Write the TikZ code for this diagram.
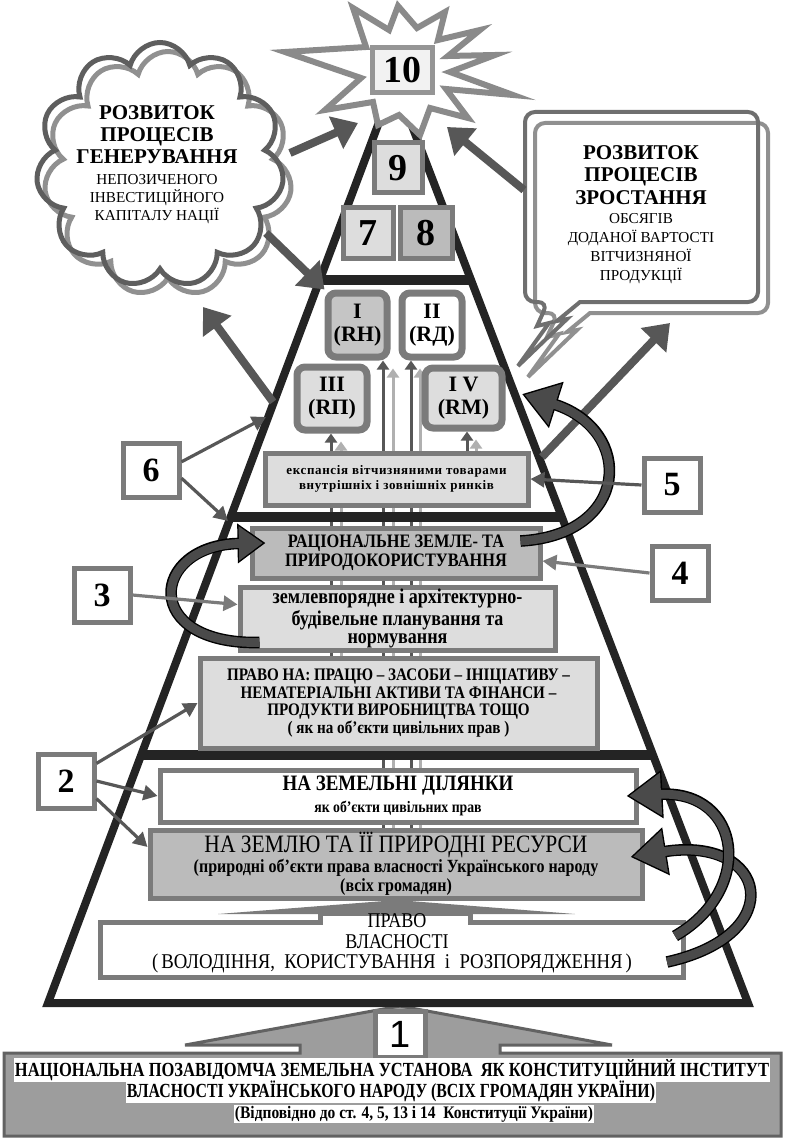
\documentclass[tikz,border=0pt]{standalone}
\usepackage{graphicx}
\usepackage{fontspec}
\setmainfont{Liberation Serif}
\setsansfont{Liberation Sans}
\newfontfamily\spacedfont[LetterSpace=5]{Liberation Serif}
\usetikzlibrary{arrows.meta,shapes.symbols,positioning,backgrounds}

\newcommand\nrw[1]{\scalebox{0.86}[1]{#1}}
\newcommand\fitw[2]{\resizebox{#1}{\height}{#2}}

\definecolor{pyrblack}{HTML}{242424}
\definecolor{arrowgray}{HTML}{575757}
\definecolor{framegray}{HTML}{7B7B7B}
\definecolor{lightfill}{HTML}{DDDDDD}
\definecolor{midfill}{HTML}{BBBBBB}
\definecolor{platefill}{HTML}{9D9D9D}
\definecolor{linelight}{HTML}{B0B0B0}
\definecolor{clouddark}{HTML}{5E5E5E}
\definecolor{cloudlight}{HTML}{909090}
\definecolor{stargray}{HTML}{8A8A8A}
\definecolor{ribbongray}{HTML}{4A4A4A}

\begin{document}
\begin{tikzpicture}[x=0.5pt,y=-0.5pt,
  boxsize/.style 2 args={minimum width=#1*0.5pt,minimum height=#2*0.5pt},
  tierbox/.style={draw=framegray,line width=2.5pt,fill=lightfill,align=center,inner sep=1pt},
  romanbox/.style={draw=framegray,line width=3.5pt,rounded corners=4pt,fill=lightfill,align=center,inner sep=0pt,font=\bfseries\fontsize{11}{11.5}\selectfont},
  digitbox/.style={draw=framegray,line width=2.5pt,fill=lightfill,inner sep=0pt,font=\bfseries\fontsize{19}{19}\selectfont},
  numbox/.style={draw=framegray,line width=2.5pt,fill=white,inner sep=0pt,boxsize={56}{54},font=\bfseries\fontsize{17}{17}\selectfont},
  platetext/.style={fill=white,inner sep=0.6pt,font=\bfseries\fontsize{10}{10}\selectfont},
  bigarrow/.style={draw=arrowgray,line width=4pt,-{Triangle[length=12pt,width=17pt]}},
  thinarrow/.style={draw=arrowgray,line width=1.6pt,-{Triangle[length=7pt,width=7.5pt]}},
  darkup/.style={draw=arrowgray,line width=1.5pt,-{Triangle[length=4.5pt,width=6pt]}},
  lightup/.style={draw=linelight,line width=1.5pt,-{Triangle[length=4.5pt,width=6pt]},shorten >=4pt},
  ribbon/.style={draw=ribbongray,line width=4.4pt,-{Triangle[length=12pt,width=16.4pt]},shorten >=1.3pt,
    preaction={draw=black,line width=5.8pt,-{Triangle[length=14pt,width=19pt]},shorten >=0pt}},
  ribbon big/.style={draw=ribbongray,line width=4.4pt,-{Triangle[length=16pt,width=20.4pt]},shorten >=1.3pt,
    preaction={draw=black,line width=5.8pt,-{Triangle[length=18pt,width=23pt]},shorten >=0pt}}]
\useasboundingbox (0,0) rectangle (784,1139);

% base plate
\draw[draw=framegray!80!black,line width=1.5pt,fill=platefill] (4,1053) -- (300,1053) -- (300,1045) -- (185,1045) -- (400,1006) -- (612,1045) -- (500,1045) -- (500,1053) -- (781,1053) -- (781,1136) -- (4,1136) -- cycle;
\node[numbox,boxsize={50}{46},font=\sffamily\fontsize{19}{19}\selectfont] (n1) at (400,1034) {1};
\node[platetext] (inst1) at (392,1070) {\fitw{377pt}{НАЦІОНАЛЬНА ПОЗАВІДОМЧА ЗЕМЕЛЬНА УСТАНОВА\ \ ЯК КОНСТИТУЦІЙНИЙ ІНСТИТУТ}};
\node[platetext] (inst2) at (391,1091) {\fitw{264pt}{ВЛАСНОСТІ УКРАЇНСЬКОГО НАРОДУ (ВСІХ ГРОМАДЯН УКРАЇНИ)}};
\node[platetext,font=\bfseries\fontsize{8.8}{9}\selectfont] (inst3) at (414,1114) {\fitw{179pt}{(Відповідно до ст. 4, 5, 13 і 14\ \ Конституції України)}};

% pyramid
\draw[pyrblack,line width=4pt] (48,1003) -- (385.5,105) -- (404,105) -- (748,1003) -- cycle;
\draw[pyrblack,line width=5pt] (320,280) -- (471,280);
\draw[pyrblack,line width=5pt] (231,517) -- (562,517);
\draw[pyrblack,line width=5pt] (141,755) -- (653,755);

% property base
\draw[draw=framegray,line width=2.5pt,fill=white] (100,977) -- (100,922) -- (320,922) -- (320,913) -- (470,913) -- (470,922) -- (683,922) -- (683,977) -- cycle;
\fill[framegray] (218,914) -- (397,900) -- (575,914) -- cycle;
\node[inner sep=0pt,font=\fontsize{10.5}{10.5}\selectfont] (pravoA) at (397,921) {\nrw{ПРАВО}};
\node[inner sep=0pt,font=\fontsize{10.5}{10.5}\selectfont] (pravoB) at (397,942) {\nrw{ВЛАСНОСТІ}};
\node[inner sep=0pt,font=\fontsize{10.5}{10.5}\selectfont] (pravoC) at (392,963) {\fitw{240pt}{(\,ВОЛОДІННЯ,\ \ КОРИСТУВАННЯ\ \ і\ \ РОЗПОРЯДЖЕННЯ\,)}};

% tiers
\node[tierbox,fill=midfill,boxsize={492}{68},font=\bfseries\fontsize{9.3}{9.6}\selectfont] (zemlia) at (396,864) {\nrw{\mdseries\fontsize{12.5}{12.5}\selectfont НА ЗЕМЛЮ ТА ЇЇ ПРИРОДНІ РЕСУРСИ}\\\nrw{(природні об’єкти права власності Українського народу}\\\nrw{(всіх громадян)}};
\node[tierbox,fill=white,boxsize={476}{52},font=\bfseries\fontsize{11}{11}\selectfont] (zemdil) at (398,796) {\nrw{НА ЗЕМЕЛЬНІ ДІЛЯНКИ}\\\nrw{\fontsize{8}{8}\selectfont як об’єкти цивільних прав}};
\node[tierbox,boxsize={397}{90},font=\bfseries\fontsize{8.8}{8.8}\selectfont] (pravona) at (398.5,703) {\nrw{ПРАВО НА: ПРАЦЮ – ЗАСОБИ – ІНІЦІАТИВУ –}\\\nrw{НЕМАТЕРІАЛЬНІ АКТИВИ ТА ФІНАНСИ –}\\\nrw{ПРОДУКТИ ВИРОБНИЦТВА ТОЩО}\\\nrw{( як на об’єкти цивільних прав )}};
\node[tierbox,boxsize={315}{63},font=\bfseries\fontsize{10.5}{9}\selectfont] (zemv) at (397.5,618.5) {\nrw{землевпорядне і архітектурно-}\\\nrw{будівельне планування та}\\\nrw{нормування}};
\node[tierbox,fill=midfill,boxsize={288}{50},font=\bfseries\fontsize{9.5}{9.5}\selectfont] (ratio) at (396,553) {\nrw{РАЦІОНАЛЬНЕ ЗЕМЛЕ- ТА}\\\nrw{ПРИРОДОКОРИСТУВАННЯ}};
\node[tierbox,boxsize={263}{52},font=\spacedfont\bfseries\fontsize{6.5}{7.5}\selectfont] (expan) at (396.5,479) {експансія вітчизняними товарами\\внутрішніх і зовнішніх ринків};

\node[romanbox,fill=midfill!70!lightfill,boxsize={59}{64}] (rI) at (357.5,325) {I\\(RH)};
\node[romanbox,fill=white,boxsize={60}{64}] (rII) at (432,325) {II\\(RД)};
\node[romanbox,boxsize={70}{63}] (rIII) at (332,398.5) {III\\(RП)};
\node[romanbox,boxsize={77}{60}] (rIV) at (463.5,398) {I V\\(RM)};

\begin{scope}[on background layer]
\coordinate (vIIIa) at (331,700);
\coordinate (vIIIb) at (341,700);
\coordinate (vIa) at (383,850);
\coordinate (vIb) at (393,850);
\coordinate (vIIa) at (411,850);
\coordinate (vIIb) at (420,850);
\coordinate (vIVa) at (467,475);
\coordinate (vIVb) at (476,475);
\draw[lightup] (vIIIb) -- (vIIIb |- rIII.south);
\draw[darkup] (vIIIa) -- (vIIIa |- rIII.south);
\draw[lightup] (vIb) -- (vIb |- rI.south);
\draw[darkup] (vIa) -- (vIa |- rI.south);
\draw[lightup] (vIIb) -- (vIIb |- rII.south);
\draw[darkup] (vIIa) -- (vIIa |- rII.south);
\draw[lightup] (vIVb) -- (vIVb |- rIV.south);
\draw[darkup] (vIVa) -- (vIVa |- rIV.south);
\end{scope}

\node[digitbox,boxsize={48}{50}] (d9) at (398,168) {9};
\node[digitbox,boxsize={50}{51}] (d7) at (368,233) {7};
\node[digitbox,fill=midfill,boxsize={52}{51}] (d8) at (426,233) {8};

% burst
\draw[draw=stargray,line width=3pt,fill=white] (398,6) -- (389,30) -- (353,8) -- (366,47) -- (285,52) -- (361,78) -- (325,110) -- (373,102) -- (378,125) -- (399,115) -- (420,135) -- (430,108) -- (468,118) -- (446,89) -- (513,95) -- (450,72) -- (495,55) -- (448,56) -- (480,30) -- (438,40) -- (445,12) -- (417,28) -- cycle;
\node[digitbox,fill=black!5,draw=framegray!80,boxsize={60}{45}] (d10) at (402,70) {10};

% cloud
\node[cloud,cloud puffs=11,cloud ignores aspect,draw=cloudlight,line width=2.5pt,boxsize={248}{245}] (cloudb) at (168,174) {};
\node[cloud,cloud puffs=11,cloud ignores aspect,draw=clouddark,line width=2.5pt,boxsize={248}{245}] (cloud) at (160,165) {};
\node[font=\bfseries\fontsize{10.5}{11}\selectfont,align=center] (cloudhead) at (157,135) {РОЗВИТОК\\ПРОЦЕСІВ\\ГЕНЕРУВАННЯ};
\node[font=\fontsize{7.6}{9.2}\selectfont,align=center] (cloudsub) at (157,199) {НЕПОЗИЧЕНОГО\\ІНВЕСТИЦІЙНОГО\\КАПІТАЛУ НАЦІЇ};

% callout
\draw[draw=cloudlight,line width=2pt,rounded corners=5pt,shift={(10,11)}] (580,302) -- (758,302) -- (758,112) -- (525,112) -- (525,302) -- (548,302) [sharp corners] -- (537,326) -- (549,323) -- (518,366) -- (567,319) -- (557,321) -- cycle;
\draw[draw=framegray!90!black,line width=2pt,rounded corners=5pt] (580,302) -- (758,302) -- (758,112) -- (525,112) -- (525,302) -- (548,302) [sharp corners] -- (537,326) -- (549,323) -- (518,366) -- (567,319) -- (557,321) -- cycle;
\node[font=\bfseries\fontsize{10.5}{11.3}\selectfont,align=center] (bubhead) at (641,175) {РОЗВИТОК\\ПРОЦЕСІВ\\ЗРОСТАННЯ};
\node[font=\fontsize{7.6}{9.5}\selectfont,align=center] (bubsub) at (641,249) {ОБСЯГІВ\\ДОДАНОЇ ВАРТОСТІ\\ВІТЧИЗНЯНОЇ\\ПРОДУКЦІЇ};

\coordinate (cloudE) at (290,153);
\coordinate (cloudSE) at (266,233);
\coordinate (cloudS) at (203,307);
\coordinate (starW) at (358,123);
\coordinate (starE) at (447,127);
\coordinate (bubW) at (524,190);
\coordinate (bubS) at (670,323);
\coordinate (edgeW) at (273,402);
\coordinate (edgeE) at (542,457);
\coordinate (edgeE2) at (522,394);
\coordinate (edge6a) at (266,417);
\coordinate (edge6b) at (228,521);
\coordinate (pravoE1) at (675,936);
\coordinate (pravoE2) at (667,962);

\draw[bigarrow] (cloudE) -- (starW);
\draw[bigarrow] (cloudSE) -- (rI.north west);
\draw[bigarrow] (bubW) -- (starE);
\draw[bigarrow] (edgeW) -- (cloudS);
\draw[bigarrow] (edgeE) -- (bubS);

\draw[ribbon] ([xshift=11pt,yshift=-12pt]zemv.west) .. controls (140,645) and (150,545) .. ([xshift=8pt,yshift=5pt]ratio.west);
\draw[ribbon big] ([xshift=-11pt,yshift=6pt]ratio.east) .. controls (630,535) and (635,430) .. (edgeE2);
\draw[ribbon big] (pravoE2) .. controls (790,935) and (768,835) .. ([xshift=-7pt,yshift=3.5pt]zemlia.east);
\draw[ribbon big] (pravoE1) .. controls (755,890) and (742,790) .. ([xshift=-6pt]zemdil.east);

\node[numbox] (n2) at (66,781) {2};
\node[numbox] (n3) at (102,595) {3};
\node[numbox] (n4) at (680,573) {4};
\node[numbox] (n5) at (672,485) {5};
\node[numbox] (n6) at (151,470) {6};

\draw[thinarrow] (n6.15) -- (edge6a);
\draw[thinarrow] (n6.-15) -- (edge6b);
\draw[thinarrow] (n5.west) -- (expan.east);
\draw[thinarrow,draw=framegray] (n4.west) -- ([yshift=-4pt]ratio.east);
\draw[thinarrow,draw=framegray] (n3.east) -- ([yshift=7pt]zemv.west);
\draw[thinarrow] (n2.30) -- (pravona.west);
\draw[thinarrow] (n2.east) -- (zemdil.west);
\draw[thinarrow] (n2.-30) -- ([yshift=8.5pt]zemlia.west);
\end{tikzpicture}
\end{document}
